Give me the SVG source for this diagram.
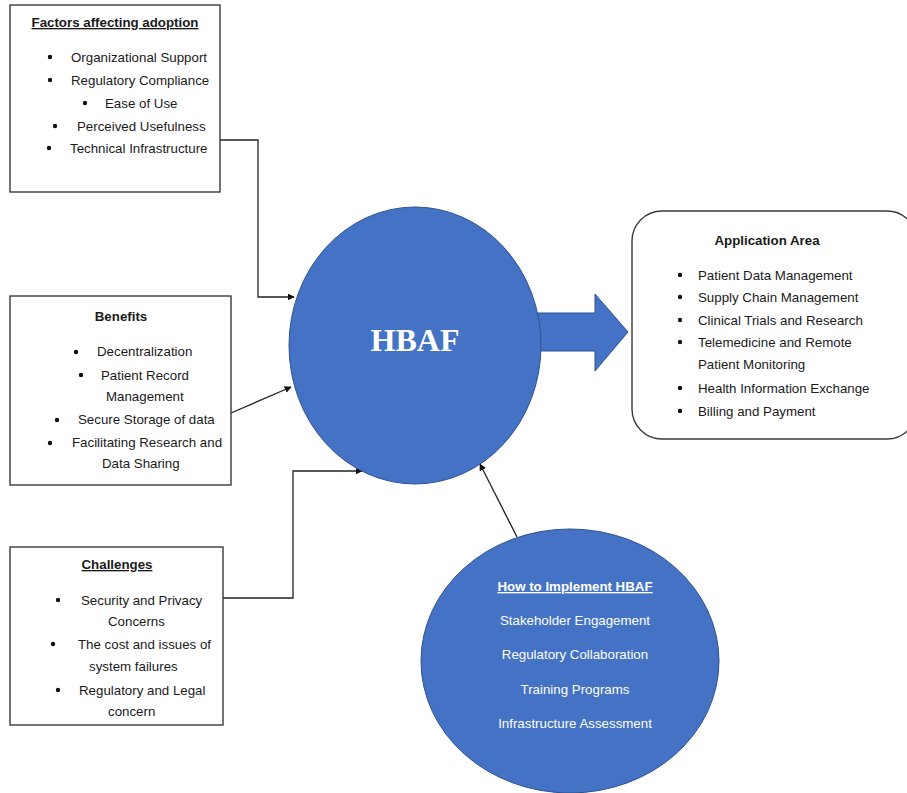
<svg xmlns="http://www.w3.org/2000/svg" width="907" height="793" viewBox="0 0 907 793">
<defs>
<style>
.box{fill:#fff;stroke:#3a3a3a;stroke-width:1.4}
.t{font-family:"Liberation Sans",Arial,sans-serif;font-size:13.3px;fill:#1a1a1a}
.h{font-family:"Liberation Sans",Arial,sans-serif;font-size:13.3px;font-weight:bold;fill:#1a1a1a}
.u{text-decoration:underline}
.w{fill:#fff}
.c{text-anchor:middle}
.blt{fill:#111}
.conn{fill:none;stroke:#222;stroke-width:1.3}
.ell{fill:#4472C4;stroke:#2F528F;stroke-width:1}
</style>
<marker id="ah" viewBox="0 0 10 10" refX="9" refY="5" markerWidth="7" markerHeight="7" orient="auto" markerUnits="userSpaceOnUse">
<path d="M0,0 L10,5 L0,10 z" fill="#111"/>
</marker>
</defs>
<rect width="907" height="793" fill="#fff"/>

<g id="connectors">
<polyline class="conn" points="220,140 258,140 258,297 294,297" marker-end="url(#ah)"/>
<line class="conn" x1="231" y1="413" x2="291" y2="387" marker-end="url(#ah)"/>
<polyline class="conn" points="223,598 293,598 293,471 362,471" marker-end="url(#ah)"/>
<line class="conn" x1="517" y1="537" x2="480" y2="464" marker-end="url(#ah)"/>
<path d="M535,313 L595,313 L595,294 L628,332 L595,371 L595,351 L535,351 z" fill="#4472C4" stroke="#2F528F" stroke-width="1"/>
</g>

<g id="factors">
<rect class="box" x="10" y="5" width="210" height="187"/>
<text class="h u c" x="115" y="27">Factors affecting adoption</text>
<circle class="blt" cx="50" cy="57" r="2.2"/><text class="t" x="71" y="62">Organizational Support</text>
<circle class="blt" cx="50" cy="80" r="2.2"/><text class="t" x="71" y="85">Regulatory Compliance</text>
<circle class="blt" cx="85" cy="103" r="2.2"/><text class="t" x="105" y="108">Ease of Use</text>
<circle class="blt" cx="55" cy="126" r="2.2"/><text class="t" x="77" y="131">Perceived Usefulness</text>
<circle class="blt" cx="49" cy="148" r="2.2"/><text class="t" x="70" y="153">Technical Infrastructure</text>
</g>

<g id="benefits">
<rect class="box" x="10" y="296" width="221" height="189"/>
<text class="h c" x="121" y="321">Benefits</text>
<circle class="blt" cx="76" cy="352" r="2.2"/><text class="t" x="97" y="356">Decentralization</text>
<circle class="blt" cx="81" cy="375" r="2.2"/><text class="t" x="101" y="380">Patient Record</text>
<text class="t" x="106" y="401">Management</text>
<circle class="blt" cx="57" cy="420" r="2.2"/><text class="t" x="78" y="424">Secure Storage of data</text>
<circle class="blt" cx="50" cy="443" r="2.2"/><text class="t" x="72" y="447">Facilitating Research and</text>
<text class="t" x="102" y="468">Data Sharing</text>
</g>

<g id="challenges">
<rect class="box" x="10" y="547" width="213" height="178"/>
<text class="h u c" x="117" y="569">Challenges</text>
<circle class="blt" cx="58" cy="600" r="2.2"/><text class="t" x="81" y="605">Security and Privacy</text>
<text class="t" x="108" y="626">Concerns</text>
<circle class="blt" cx="53" cy="644" r="2.2"/><text class="t" x="78" y="649">The cost and issues of</text>
<text class="t" x="89" y="671">system failures</text>
<circle class="blt" cx="58" cy="690" r="2.2"/><text class="t" x="79" y="695">Regulatory and Legal</text>
<text class="t" x="108" y="716">concern</text>
</g>

<g id="hbaf">
<ellipse class="ell" cx="415" cy="345.5" rx="126" ry="138.5"/>
<text x="415" y="351" text-anchor="middle" font-family="'Liberation Serif','Times New Roman',serif" font-weight="bold" font-size="32" fill="#fff">HBAF</text>
</g>

<g id="application">
<rect class="box" x="632" y="211" width="285" height="228" rx="30" ry="30"/>
<text class="h c" x="767" y="245">Application Area</text>
<circle class="blt" cx="680" cy="275" r="2.2"/><text class="t" x="698" y="280">Patient Data Management</text>
<circle class="blt" cx="680" cy="297" r="2.2"/><text class="t" x="698" y="302">Supply Chain Management</text>
<circle class="blt" cx="680" cy="320" r="2.2"/><text class="t" x="698" y="325">Clinical Trials and Research</text>
<circle class="blt" cx="680" cy="342" r="2.2"/><text class="t" x="698" y="347">Telemedicine and Remote</text>
<text class="t" x="698" y="369">Patient Monitoring</text>
<circle class="blt" cx="680" cy="388" r="2.2"/><text class="t" x="698" y="393">Health Information Exchange</text>
<circle class="blt" cx="680" cy="411" r="2.2"/><text class="t" x="698" y="416">Billing and Payment</text>
</g>

<g id="implement">
<ellipse class="ell" cx="570" cy="661" rx="149" ry="132"/>
<text class="h u c w" x="575" y="591">How to Implement HBAF</text>
<text class="t c w" x="575" y="625">Stakeholder Engagement</text>
<text class="t c w" x="575" y="659">Regulatory Collaboration</text>
<text class="t c w" x="575" y="694">Training Programs</text>
<text class="t c w" x="575" y="728">Infrastructure Assessment</text>
</g>
</svg>
